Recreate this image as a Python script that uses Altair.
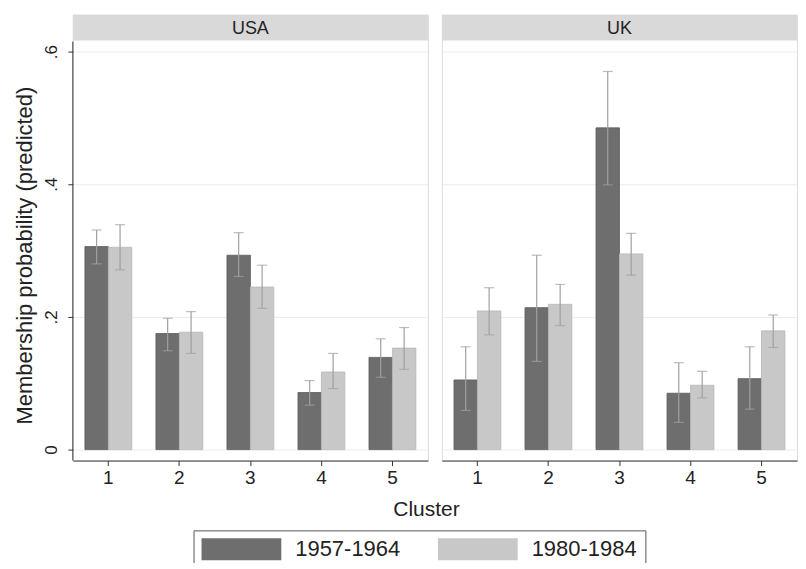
import altair as alt
import pandas as pd

# ---- data ----
clusters = [1, 2, 3, 4, 5]
periods = ["1957-1964", "1980-1984"]

usa_early = [0.306, 0.175, 0.293, 0.086, 0.139]
usa_early_lo = [0.280, 0.149, 0.261, 0.067, 0.109]
usa_early_hi = [0.331, 0.198, 0.327, 0.104, 0.167]
usa_late = [0.305, 0.177, 0.245, 0.117, 0.153]
usa_late_lo = [0.271, 0.145, 0.213, 0.092, 0.121]
usa_late_hi = [0.339, 0.208, 0.278, 0.145, 0.184]

uk_early = [0.105, 0.214, 0.485, 0.085, 0.107]
uk_early_lo = [0.059, 0.133, 0.399, 0.041, 0.061]
uk_early_hi = [0.155, 0.293, 0.570, 0.131, 0.155]
uk_late = [0.209, 0.219, 0.295, 0.097, 0.179]
uk_late_lo = [0.173, 0.187, 0.263, 0.078, 0.154]
uk_late_hi = [0.244, 0.249, 0.326, 0.118, 0.203]

y_ticks = [0, 0.2, 0.4, 0.6]
colors = ["#6e6e6e", "#c8c8c8"]
strokes = ["#5a5a5a", "#b8b8b8"]

FONT = "Liberation Sans"
TXT = "#222222"
W = 356
H = 447
STRIP = 26
Y_DOMAIN = [-0.0165, 0.6556]


def frame(country, e, elo, ehi, l, llo, lhi):
    rows = []
    for i, c in enumerate(clusters):
        rows.append(dict(country=country, cluster=c, period=periods[0],
                         value=e[i], lo=elo[i], hi=ehi[i]))
        rows.append(dict(country=country, cluster=c, period=periods[1],
                         value=l[i], lo=llo[i], hi=lhi[i]))
    return pd.DataFrame(rows)


usa = frame("USA", usa_early, usa_early_lo, usa_early_hi,
            usa_late, usa_late_lo, usa_late_hi)
uk = frame("UK", uk_early, uk_early_lo, uk_early_hi,
           uk_late, uk_late_lo, uk_late_hi)


def panel(df, name, first):
    x_common = dict(labelAngle=0, labelFontSize=19, labelFont=FONT,
                    labelColor=TXT, tickSize=5, tickColor="#333",
                    domainColor="#333", labelPadding=3)
    if first:
        x_axis = alt.Axis(title="Cluster", titleFont=FONT, titleFontSize=21,
                          titleFontWeight="normal", titleColor=TXT,
                          titleX=354, titleY=49, titleAlign="center",
                          titleBaseline="middle", **x_common)
        y_axis = alt.Axis(values=y_ticks, grid=True, gridColor="#ebebeb",
                          domain=False, tickSize=5, tickColor="#333",
                          labelAngle=270, labelFontSize=17, labelFont=FONT,
                          labelColor=TXT, labelAlign="center",
                          labelBaseline="bottom", labelPadding=7,
                          labelExpr="datum.value == 0 ? '0' : replace(format(datum.value, '.1f'), '0.', '.')",
                          title="Membership probability (predicted)",
                          titleFont=FONT, titleFontSize=22, titleFontWeight="normal",
                          titleColor=TXT, titleAngle=270, titleX=-48, titleY=241,
                          titleAlign="center", titleBaseline="middle")
    else:
        x_axis = alt.Axis(title=None, **x_common)
        y_axis = alt.Axis(values=y_ticks, grid=True, gridColor="#ebebeb",
                          domain=False, ticks=False, labels=False, title=None)

    x_enc = alt.X("cluster:O", axis=x_axis,
                  scale=alt.Scale(paddingInner=0.34, paddingOuter=0.17))
    xoff = alt.XOffset("period:N", scale=alt.Scale(domain=periods))
    y_scale = alt.Scale(domain=Y_DOMAIN, nice=False, zero=False)

    base = alt.Chart(df)
    bars = base.mark_bar(strokeWidth=0.8).encode(
        x=x_enc,
        xOffset=xoff,
        y=alt.Y("value:Q", scale=y_scale, axis=y_axis),
        y2=alt.datum(0),
        color=alt.Color("period:N", scale=alt.Scale(domain=periods, range=colors),
                        legend=alt.Legend(
                            orient="none", legendX=121, legendY=517,
                            direction="horizontal", title=None,
                            symbolType="M-3.636,-1L3.636,-1L3.636,1L-3.636,1Z",
                            symbolSize=484, symbolOffset=29, symbolStrokeWidth=0,
                            labelFontSize=22, labelFont=FONT, labelColor=TXT,
                            labelOffset=43, columnPadding=37, padding=8,
                            strokeColor="#555", fillColor="white")),
        stroke=alt.Stroke("period:N", scale=alt.Scale(domain=periods, range=strokes),
                          legend=None),
    )
    err = base.mark_rule(color="#a0a0a0", strokeWidth=1.2).encode(
        x=x_enc, xOffset=xoff,
        y=alt.Y("lo:Q", scale=y_scale), y2="hi:Q")
    cap_hi = base.mark_tick(color="#a0a0a0", orient="horizontal", size=10,
                            thickness=1.2).encode(
        x=x_enc, xOffset=xoff, y=alt.Y("hi:Q", scale=y_scale))
    cap_lo = base.mark_tick(color="#a0a0a0", orient="horizontal", size=10,
                            thickness=1.2).encode(
        x=x_enc, xOffset=xoff, y=alt.Y("lo:Q", scale=y_scale))

    strip_data = alt.Data(values=[{"label": name}])
    strip = alt.Chart(strip_data).mark_rect(color="#d9d9d9").encode(
        x=alt.value(0), x2=alt.value(W), y=alt.value(0), y2=alt.value(STRIP))
    strip_text = alt.Chart(strip_data).mark_text(
        font=FONT, fontSize=18, color=TXT, baseline="middle", align="center"
    ).encode(x=alt.value(W / 2), y=alt.value(STRIP / 2 + 1), text="label:N")

    layers = [bars, err, cap_hi, cap_lo, strip, strip_text]
    if first:
        yline = alt.Chart(alt.Data(values=[{"a": 1}])).mark_rule(
            color="#333", strokeWidth=1).encode(
            x=alt.value(0), y=alt.value(STRIP + 1), y2=alt.value(H))
        layers.append(yline)
    return alt.layer(*layers).properties(width=W, height=H)


chart = alt.hconcat(panel(usa, "USA", True), panel(uk, "UK", False),
                    spacing=14, bounds="flush").resolve_scale(
    color="shared", stroke="shared").properties(
    padding={"left": 5, "top": 5, "right": 0, "bottom": -7}
).configure_view(stroke=None).configure(background="white")

chart.save("out.html", embed_options={"renderer": "svg", "actions": False})
